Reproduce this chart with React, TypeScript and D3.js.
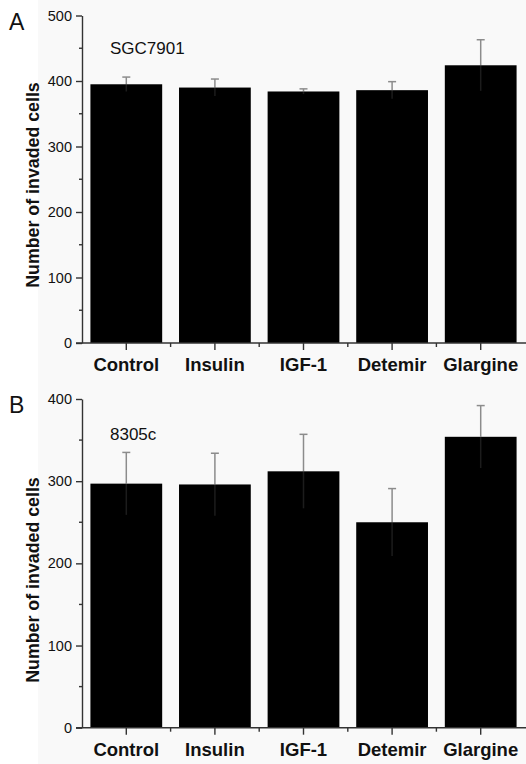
import * as d3 from "d3";
import { useRef, useEffect } from "react";

const categories = ["Control", "Insulin", "IGF-1", "Detemir", "Glargine"];

const sgcMeans = [395, 390, 384, 386, 424];
const sgcErrors = [11, 13, 4, 13, 39];

const c8305Means = [297, 296, 312, 250, 354];
const c8305Errors = [38, 38, 45, 41, 38];

const ticksA = [0, 100, 200, 300, 400, 500];
const ticksB = [0, 100, 200, 300, 400];

const W = 526;
const H = 764;

function Panel({ means, errors, ticks, top, bottom, letter, cell, labelCy }) {
  const ref = useRef(null);
  const axisX = 82;
  const right = 525;

  useEffect(() => {
    const g = d3.select(ref.current);
    g.selectAll("*").remove();

    const yMax = ticks[ticks.length - 1];
    const y = d3.scaleLinear().domain([0, yMax]).range([bottom, top]);
    const x = d3
      .scaleBand()
      .domain(categories)
      .range([axisX, right])
      .paddingInner(0.19)
      .paddingOuter(0.095);

    const data = categories.map((c, i) => ({ c, m: means[i], e: errors[i] }));

    // background
    g.append("rect")
      .attr("x", 38)
      .attr("y", top - 20)
      .attr("width", W)
      .attr("height", bottom - top + 70)
      .attr("fill", "#f9f9f9");

    // bars
    g.selectAll(".bar")
      .data(data)
      .join("rect")
      .attr("class", "bar")
      .attr("x", (d) => x(d.c))
      .attr("y", (d) => y(d.m))
      .attr("width", x.bandwidth())
      .attr("height", (d) => y(0) - y(d.m))
      .attr("fill", "#000");

    const cx = (d) => x(d.c) + x.bandwidth() / 2;

    // error bars
    g.selectAll(".err-in")
      .data(data)
      .join("line")
      .attr("x1", cx)
      .attr("x2", cx)
      .attr("y1", (d) => y(d.m))
      .attr("y2", (d) => y(d.m - d.e))
      .attr("stroke", "#1c1c1c")
      .attr("stroke-width", 1.5);
    g.selectAll(".err-out")
      .data(data)
      .join("line")
      .attr("x1", cx)
      .attr("x2", cx)
      .attr("y1", (d) => y(d.m))
      .attr("y2", (d) => y(d.m + d.e))
      .attr("stroke", "#8c8c8c")
      .attr("stroke-width", 1.5);
    g.selectAll(".err-cap")
      .data(data)
      .join("line")
      .attr("x1", (d) => cx(d) - 4)
      .attr("x2", (d) => cx(d) + 4)
      .attr("y1", (d) => y(d.m + d.e))
      .attr("y2", (d) => y(d.m + d.e))
      .attr("stroke", "#8c8c8c")
      .attr("stroke-width", 1.5);

    // y axis
    const minorY = d3.range(50, yMax, 100);
    const yg = g
      .append("g")
      .attr("transform", `translate(${axisX},0)`)
      .call(d3.axisLeft(y).tickValues(ticks).tickSize(6).tickSizeOuter(0).tickPadding(4));
    yg.selectAll("path, line").attr("stroke", "#333").attr("stroke-width", 1.4);
    yg.selectAll("text")
      .attr("font-family", "Liberation Sans, Arial, sans-serif")
      .attr("font-size", 14.5)
      .attr("fill", "#111");
    yg.selectAll(".minor")
      .data(minorY)
      .join("line")
      .attr("x1", -3)
      .attr("x2", 0)
      .attr("y1", (d) => y(d))
      .attr("y2", (d) => y(d))
      .attr("stroke", "#333")
      .attr("stroke-width", 1.4);

    // x axis
    const xg = g.append("g").attr("transform", `translate(0,${bottom})`);
    xg.append("line")
      .attr("x1", axisX - 6)
      .attr("x2", W)
      .attr("stroke", "#333")
      .attr("stroke-width", 1.4);
    xg.selectAll(".major")
      .data(data)
      .join("line")
      .attr("x1", cx)
      .attr("x2", cx)
      .attr("y1", 0)
      .attr("y2", 7)
      .attr("stroke", "#333")
      .attr("stroke-width", 1.4);
    xg.selectAll(".minor")
      .data(categories.slice(1))
      .join("line")
      .attr("x1", (d) => x(d) - (x.step() - x.bandwidth()) / 2)
      .attr("x2", (d) => x(d) - (x.step() - x.bandwidth()) / 2)
      .attr("y1", 0)
      .attr("y2", 4)
      .attr("stroke", "#333")
      .attr("stroke-width", 1.4);
    xg.selectAll("text")
      .data(data)
      .join("text")
      .attr("x", cx)
      .attr("y", 28)
      .attr("text-anchor", "middle")
      .attr("font-family", "Liberation Sans, Arial, sans-serif")
      .attr("font-weight", "bold")
      .attr("font-size", 18.5)
      .attr("fill", "#111")
      .text((d) => d.c);

    // y label
    g.append("text")
      .attr("transform", `translate(39,${labelCy}) rotate(-90)`)
      .attr("text-anchor", "middle")
      .attr("font-family", "Liberation Sans, Arial, sans-serif")
      .attr("font-weight", "bold")
      .attr("font-size", 17.8)
      .attr("fill", "#111")
      .text("Number of invaded cells");

    // cell line label
    g.append("text")
      .attr("x", 110)
      .attr("y", top + 38 + (letter === "B" ? 3 : 0))
      .attr("font-family", "Liberation Sans, Arial, sans-serif")
      .attr("font-size", 17)
      .attr("fill", "#111")
      .text(cell);

    // panel letter
    g.append("text")
      .attr("x", 9)
      .attr("y", top + 14)
      .attr("font-family", "Liberation Sans, Arial, sans-serif")
      .attr("font-size", 23)
      .attr("fill", "#111")
      .text(letter);
  }, [means, errors, ticks, top, bottom, letter, cell, labelCy]);

  return <g ref={ref}></g>;
}

export default function App() {
  return (
    <svg
      width={W}
      height={H}
      viewBox={`0 0 ${W} ${H}`}
      style={{ position: "absolute", left: 0, top: 0, background: "#fff" }}
    >
      <Panel
        means={sgcMeans}
        errors={sgcErrors}
        ticks={ticksA}
        top={15.5}
        bottom={343}
        letter="A"
        cell="SGC7901"
        labelCy={185}
      />
      <Panel
        means={c8305Means}
        errors={c8305Errors}
        ticks={ticksB}
        top={399}
        bottom={727.7}
        letter="B"
        cell="8305c"
        labelCy={580}
      />
    </svg>
  );
}
